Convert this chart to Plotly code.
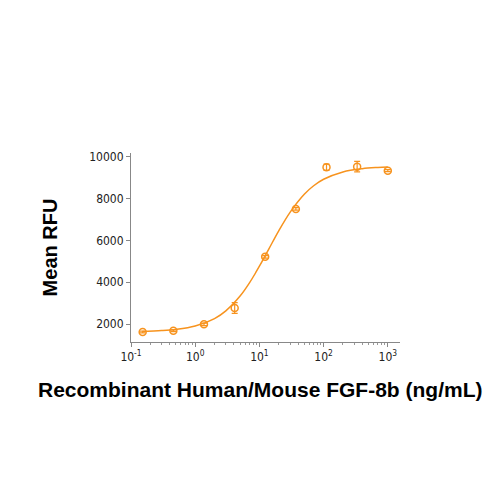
import plotly.graph_objects as go

# measured points
conc = [0.152, 0.457, 1.37, 4.12, 12.3, 37.0, 111, 333, 1000]
rfu = [1617, 1680, 1985, 2766, 5220, 7512, 9507, 9536, 9344]
err = [40, 40, 60, 260, 60, 60, 150, 250, 50]

# fitted curve
curve_x = [0.15, 0.3, 0.5, 1, 2, 3, 5, 7, 10, 14, 20, 30, 50, 70, 100, 200, 400, 700, 1000]
curve_y = [1647, 1685, 1741, 1903, 2261, 2631, 3338, 3970, 4768, 5590, 6463, 7350,
           8217, 8623, 8933, 9284, 9441, 9500, 9522]

xtick_vals = [0.1, 1, 10, 100, 1000]
xtick_text = ["10<sup>-1</sup>", "10<sup>0</sup>", "10<sup>1</sup>", "10<sup>2</sup>", "10<sup>3</sup>"]
ytick_vals = [2000, 4000, 6000, 8000, 10000]
ytick_text = ["2000", "4000", "6000", "8000", "10000"]

minor_vals = [m * d for d in [0.1, 1, 10, 100] for m in range(2, 10)] + [2000, 3000]

orange = "#F7931E"
tickfont = dict(family="DejaVu Sans Condensed, Liberation Sans Narrow, Arial", size=12, color="#222")
titlefont = dict(family="Liberation Sans, Arial", size=21, color="black")

fig = go.Figure()
fig.add_trace(go.Scatter(x=curve_x, y=curve_y, mode="lines", line=dict(color=orange, width=1.5, shape="spline"),
                         hoverinfo="skip"))
fig.add_trace(go.Scatter(x=conc, y=rfu, mode="markers",
                         marker=dict(symbol="circle-open", size=7, color=orange, line=dict(width=1.5)),
                         error_y=dict(type="data", array=err, color=orange, thickness=1.2, width=3)))

fig.add_annotation(text="<b>Recombinant Human/Mouse FGF-8b (ng/mL)</b>", xref="paper", yref="paper",
                   x=0.48, y=-0.25, xanchor="center", yanchor="middle", showarrow=False, font=titlefont)

fig.update_layout(
    width=500, height=500, showlegend=False,
    paper_bgcolor="white", plot_bgcolor="white",
    margin=dict(l=123, r=108, t=145, b=166, autoexpand=False),
    xaxis=dict(type="log", range=[-1, 3.19], tickvals=xtick_vals, ticktext=xtick_text,
               showgrid=False, zeroline=False, showline=True, linecolor="#888", linewidth=1,
               ticks="outside", ticklen=4, tickcolor="#888", tickfont=tickfont, automargin=False,
               minor=dict(ticks="outside", ticklen=2, tickcolor="#999", showgrid=False, tickvals=minor_vals)),
    yaxis=dict(range=[1140, 10190], tickvals=ytick_vals, ticktext=ytick_text, showgrid=False, zeroline=False,
               showline=True, linecolor="#888", linewidth=1, ticks="outside", ticklen=4, tickcolor="#888",
               tickfont=tickfont, automargin=False,
               title=dict(text="<b>Mean RFU</b>",
                          font=dict(family="Liberation Sans, Arial", size=20, color="black"), standoff=26)),
)

fig.write_html("out.html")
